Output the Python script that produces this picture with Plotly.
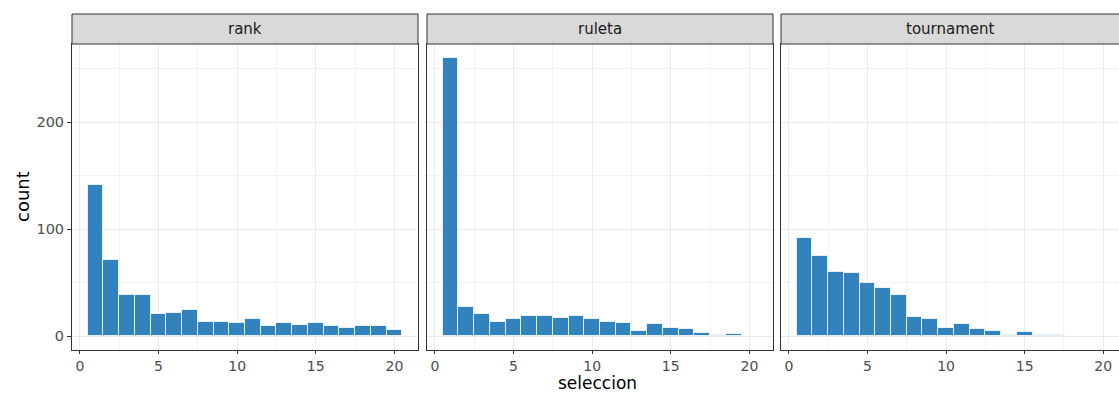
import plotly.graph_objects as go

# ---- data ----
seleccion = list(range(1, 21))
panels = ["rank", "ruleta", "tournament"]
count_rank = [141, 71, 38, 38, 21, 22, 24, 13, 13, 12, 16, 9, 12, 10, 12, 9, 8, 9, 9, 6]
count_ruleta = [260, 27, 21, 13, 16, 19, 19, 17, 19, 16, 13, 12, 5, 11, 8, 7, 3, 1, 2, 0]
count_tournament = [92, 75, 60, 59, 50, 45, 38, 18, 16, 8, 11, 7, 5, 1, 4, 1, 1, 0, 0, 0]
series = [count_rank, count_ruleta, count_tournament]

x_ticks = [0, 5, 10, 15, 20]
y_ticks = [0, 100, 200]

# ---- layout geometry ----
W, H = 1119, 394
ML, MR, MT, MB = 72, 0, 44, 44
PW = W - ML - MR
PH = H - MT - MB
panel_px = [(72, 418), (427, 773), (781, 1119)]
domains = [((a - ML) / PW, (b - ML) / PW) for a, b in panel_px]
x_ranges = [[-0.5, 21.5], [-0.5, 21.5], [-0.5, 21.0]]
y_range = [-13, 273]

FONT = "DejaVu Sans"
BAR = "#3182BD"
BORDER = "#333333"
GRID = "#EBEBEB"
MINOR = "#F3F3F3"

fig = go.Figure()
for i, (name, vals) in enumerate(zip(panels, series)):
    xa = "x" if i == 0 else f"x{i+1}"
    ya = "y" if i == 0 else f"y{i+1}"
    fig.add_trace(go.Bar(
        x=seleccion, y=vals, width=1, xaxis=xa, yaxis=ya,
        marker=dict(color=BAR, line=dict(color="rgba(255,255,255,0.75)", width=1)),
        showlegend=False, name=name,
    ))

layout = dict(
    width=W, height=H,
    margin=dict(l=ML, r=MR, t=MT, b=MB, pad=0),
    paper_bgcolor="white", plot_bgcolor="white",
    font=dict(family=FONT, color="#4D4D4D", size=14),
    bargap=0,
)

for i in range(3):
    sx = "" if i == 0 else str(i + 1)
    layout[f"xaxis{sx}"] = dict(
        domain=list(domains[i]), range=x_ranges[i], anchor=f"y{sx}",
        tickvals=x_ticks, ticks="outside", ticklen=3, tickcolor=BORDER, tickwidth=1,
        showgrid=True, gridcolor=GRID, gridwidth=1,
        minor=dict(dtick=2.5, tick0=0, showgrid=True, gridcolor=MINOR, gridwidth=1, ticks=""),
        showline=True, linecolor=BORDER, linewidth=1, mirror=True,
        zeroline=False, tickfont=dict(size=14, color="#4D4D4D", family=FONT),
        fixedrange=True,
    )
    layout[f"yaxis{sx}"] = dict(
        domain=[0, 1], range=y_range, anchor=f"x{sx}",
        tickvals=y_ticks, ticks="outside" if i == 0 else "", ticklen=4, tickcolor=BORDER,
        showticklabels=(i == 0),
        showgrid=True, gridcolor=GRID, gridwidth=1,
        minor=dict(dtick=50, tick0=0, showgrid=True, gridcolor=MINOR, gridwidth=1, ticks=""),
        showline=True, linecolor=BORDER, linewidth=1, mirror=(i < 2),
        zeroline=False, tickfont=dict(size=14.5, color="#4D4D4D", family=FONT),
        fixedrange=True,
    )

fig.update_layout(**layout)

# strips
strip_h = 30 / PH
shapes = []
annotations = []
for i, name in enumerate(panels):
    x0, x1 = domains[i]
    if i == 2:
        x1 = 1.02
    shapes.append(dict(type="rect", xref="paper", yref="paper",
                       x0=x0, x1=x1, y0=1, y1=1 + strip_h,
                       fillcolor="#D9D9D9", line=dict(color=BORDER, width=1), layer="above"))
    annotations.append(dict(text=name, xref="paper", yref="paper",
                            x=(domains[i][0] + domains[i][1]) / 2, y=1 + strip_h / 2,
                            showarrow=False, xanchor="center", yanchor="middle",
                            font=dict(family=FONT, size=15, color="#1A1A1A")))

annotations.append(dict(text="count", xref="paper", yref="paper",
                        x=(22 - ML) / PW, y=0.5, textangle=-90, showarrow=False,
                        xanchor="center", yanchor="middle",
                        font=dict(family=FONT, size=18, color="black")))
annotations.append(dict(text="seleccion", xref="paper", yref="paper",
                        x=(597 - ML) / PW, y=-(383 - (MT + PH)) / PH, showarrow=False,
                        xanchor="center", yanchor="middle", borderpad=0,
                        font=dict(family=FONT, size=17, color="black")))

fig.update_layout(shapes=shapes, annotations=annotations)
fig.write_html("out.html")
